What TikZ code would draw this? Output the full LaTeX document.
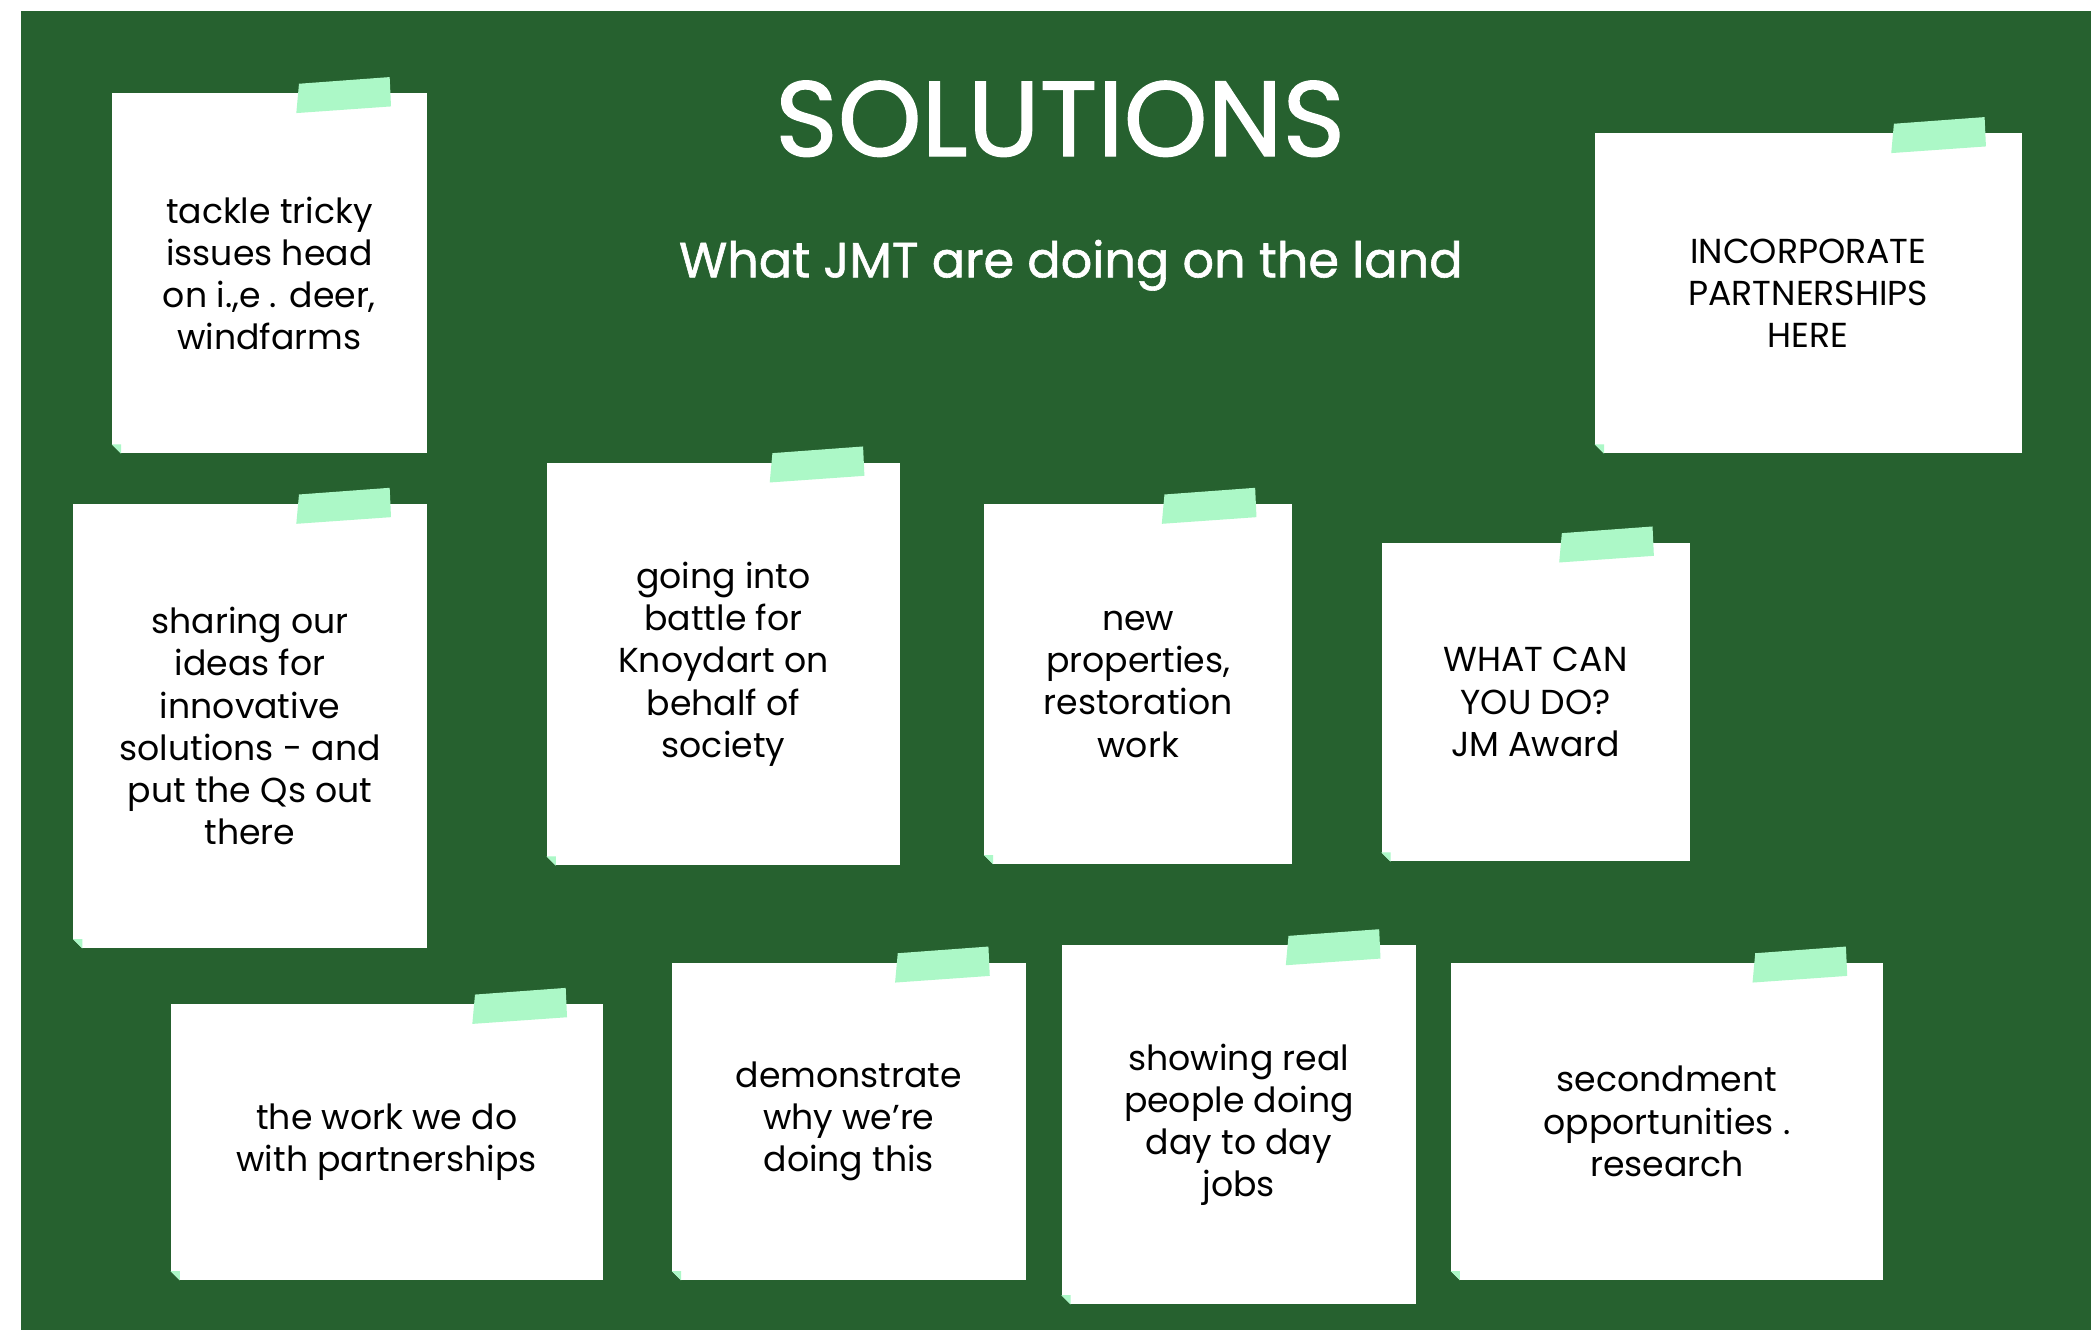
\documentclass[tikz,border=0pt]{standalone}
\usepackage{fontspec}
\setmainfont{Poppins}
\newfontfamily\headfont{Poppins}[FakeBold=1.2]
\definecolor{board}{RGB}{38,97,47}
\definecolor{tapegreen}{RGB}{172,248,199}
\newcommand{\notefont}{\fontsize{26}{31.7}\selectfont}
\tikzset{
	paper/.style={fill=white, inner sep=0pt, align=center, font=\notefont},
	tape/.style={fill=tapegreen},
	heading/.style={text=white, anchor=base, inner sep=0pt},
}
% tape at the top right and folded corner at the bottom left of a note
\newcommand{\pinnote}[1]{%
	\fill[tape] (#1.north east) ++(-96,-7) -- ++(68,-5) -- ++(1,22) -- ++(-71,5) -- cycle;
	\fill[board] (#1.south west) ++(0,-7) -- ++(0,7) -- ++(7,0) -- cycle;
	\fill[tape] (#1.south west) ++(0,-7) -- ++(7,7) -- ++(0,-7) -- cycle;
}
\begin{document}
\begin{tikzpicture}[x=1pt, y=-1pt]
		\useasboundingbox (0,0) rectangle (1568,997.3);
		\fill[white] (0,0) rectangle (1568,997.3);
		\fill[board] (16,8) rectangle (1568,997.3);
		\node[heading, font=\headfont\fontsize{80}{80}\selectfont] (title) at (795,117) {SOLUTIONS};
		\node[heading, font=\headfont\fontsize{37}{37}\selectfont] (sub) at (803,208) {What JMT are doing on the land};
		% top row
		\node[paper, minimum width=236, minimum height=270] (tackle) at (202,205) {tackle tricky\\issues head\\on i.,e . deer,\\windfarms};
		\pinnote{tackle}
		\node[paper, minimum width=320, minimum height=240] (incorp) at (1356,220) {INCORPORATE\\PARTNERSHIPS\\HERE};
		\pinnote{incorp}
		% middle row
		\node[paper, minimum width=265, minimum height=333] (sharing) at (187.5,544.5) {sharing our\\ideas for\\innovative\\solutions - and\\put the Qs out\\there};
		\pinnote{sharing}
		\node[paper, minimum width=265, minimum height=302] (battle) at (542.5,498) {going into\\battle for\\Knoydart on\\behalf of\\society};
		\pinnote{battle}
		\node[paper, minimum width=231, minimum height=270] (props) at (853.5,513) {new\\properties,\\restoration\\work};
		\pinnote{props}
		\node[paper, minimum width=231, minimum height=239] (whatcan) at (1151.5,526.5) {WHAT CAN\\YOU DO?\\JM Award};
		\pinnote{whatcan}
		% bottom row
		\node[paper, minimum width=324, minimum height=207] (work) at (290,856.5) {the work we do\\with partnerships};
		\pinnote{work}
		\node[paper, minimum width=265, minimum height=238] (demo) at (636.5,841) {demonstrate\\why we're\\doing this};
		\pinnote{demo}
		\node[paper, minimum width=266, minimum height=269] (people) at (929,843.5) {showing real\\people doing\\day to day\\jobs};
		\pinnote{people}
		\node[paper, minimum width=324, minimum height=238] (second) at (1250,841) {secondment\\opportunities .\\research};
		\pinnote{second}
\end{tikzpicture}
\end{document}
